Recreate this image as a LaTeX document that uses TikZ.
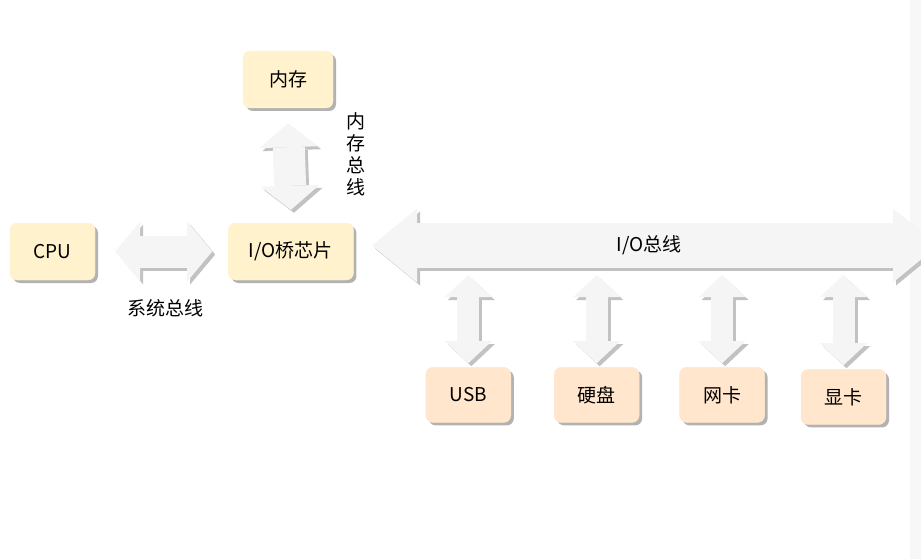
\documentclass[tikz,border=0pt]{standalone}
\usepackage{fontspec}
\setmainfont{Noto Sans CJK SC}
\usetikzlibrary{positioning}
\usetikzlibrary{shadows}
\usetikzlibrary{arrows.meta}

\definecolor{chipfill}{HTML}{FFF2CC}
\definecolor{devfill}{HTML}{FFE6CC}
\definecolor{busfill}{HTML}{F5F5F5}
\definecolor{busshade}{HTML}{C2C2C2}

\tikzset{
  box/.style={rounded corners=7pt, inner sep=0pt, minimum height=57pt,
    font=\fontsize{19}{22}\selectfont,
    drop shadow={shadow xshift=3pt, shadow yshift=-3pt, fill=black, opacity=0.3}},
  chip/.style={box, fill=chipfill, draw=chipfill},
  dev/.style={box, fill=devfill, draw=devfill, minimum width=85pt, minimum height=55pt},
  txt/.style={inner sep=0pt, font=\fontsize{19}{22}\selectfont},
  bus/.style n args={3}{line width=#2, draw=busfill,
    arrows={Triangle[length=#3, width=#1, line width=0pt]-Triangle[length=#3, width=#1, line width=0pt]}},
  shade/.style={draw=busshade, transform canvas={shift={(3pt,-3pt)}}},
  plain/.style={},
}

\begin{document}
\begin{tikzpicture}[x=1pt, y=-1pt]
    \clip (0,0) rectangle (921,559);
    \fill[black!3] (910,0) rectangle (921,559);

    \node[chip, minimum width=85pt] (cpu) at (52.5,251.5) {CPU};
    \node[chip, minimum width=125pt, right=133pt of cpu] (io) {I/O桥芯片};
    \node[chip, minimum width=90pt] (mem) at (288,79.5) {内存};
    \node[dev, below right=87pt and 72pt of io] (usb) {USB};
    \node[dev, right=43pt of usb] (hdd) {硬盘};
    \node[dev, right=40pt of hdd] (nic) {网卡};
    \node[dev, right=36pt of nic, yshift=-2pt] (gpu) {显卡};

    % Edges (shadow first, then the arrow)
    \coordinate (busstart) at (372,245.5);
    \coordinate (busend) at (938,245.5);
    \coordinate (bustap) at (0,275);
    \foreach \s in {shade,plain} {
      \draw[bus={60pt}{32pt}{25pt}, \s] ([xshift=20pt]cpu.east) -- ([xshift=-16pt]io.west);
      \draw[bus={59pt}{32pt}{24pt}, \s] ([yshift=-15pt]mem.south) -- ([yshift=13pt]io.north);
      \draw[bus={74pt}{45pt}{45pt}, \s] (busstart) -- (busend);
      \foreach \d in {usb,hdd,nic,gpu}
        \draw[bus={47pt}{22pt}{22pt}, \s] (\d.north |- bustap) -- ([yshift=4pt]\d.north);
    }

    % Labels
    \node[txt] (sysbus) at (165,308) {系统总线};
    \node[txt, align=center] (membus) at (356,154) {内\\存\\总\\线};
    \node[txt] (iobus) at (649,245) {I/O总线};
\end{tikzpicture}
\end{document}
